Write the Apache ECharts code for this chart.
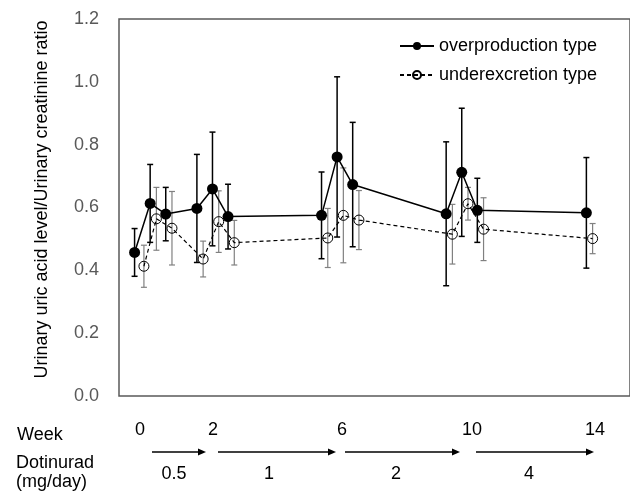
<!DOCTYPE html>
<html>
<head>
<meta charset="utf-8">
<script src="https://cdn.jsdelivr.net/npm/echarts@6/dist/echarts.min.js"></script>
<style>
  html, body { margin: 0; padding: 0; background: #fff; }
  #chart { width: 630px; height: 495px; }
</style>
</head>
<body>
<div id="chart"></div>
<script>
// positions on the x scale (one unit = one sample slot, week labels are below)
const xOver = [0, 1, 2, 4, 5, 6, 12, 13, 14, 20, 21, 22, 29]
const overMean = [0.457, 0.613, 0.579, 0.597, 0.659, 0.571, 0.575, 0.761, 0.673, 0.580, 0.712, 0.591, 0.583]
const overSD = [0.076, 0.124, 0.085, 0.172, 0.181, 0.103, 0.138, 0.255, 0.198, 0.229, 0.204, 0.102, 0.176]

const xUnder = [0.6, 1.4, 2.4, 4.4, 5.4, 6.4, 12.4, 13.4, 14.4, 20.4, 21.4, 22.4, 29.4]
const underMean = [0.413, 0.564, 0.534, 0.436, 0.555, 0.488, 0.503, 0.575, 0.560, 0.515, 0.612, 0.531, 0.501]
const underSD = [0.067, 0.100, 0.117, 0.057, 0.098, 0.071, 0.094, 0.151, 0.094, 0.095, 0.052, 0.100, 0.048]

const weekLabels = ['0', '2', '6', '10', '14']
const doseLabels = ['0.5', '1', '2', '4']

const FONT = '"Liberation Sans", Arial, sans-serif'

// annotation layout under the plot (pixels)
const weekX = [140, 213, 342, 472, 595]
const doseX = [174, 269, 396, 529]
const arrowX = [[152, 206], [218, 336], [345, 460], [476, 594]]

function pts (xs, ys) {
  return xs.map((x, i) => [x, ys[i]])
}
function bars (xs, ys, sd) {
  return xs.map((x, i) => [x, +(ys[i] - sd[i]).toFixed(3), +(ys[i] + sd[i]).toFixed(3)])
}

function errRender (color, width) {
  return function (params, api) {
    const x = api.value(0)
    const top = api.coord([x, api.value(2)])
    const bot = api.coord([x, api.value(1)])
    const hw = 3
    const st = { stroke: color, lineWidth: width }
    return {
      type: 'group',
      children: [
        { type: 'line', shape: { x1: top[0], y1: top[1], x2: bot[0], y2: bot[1] }, style: st },
        { type: 'line', shape: { x1: top[0] - hw, y1: top[1], x2: top[0] + hw, y2: top[1] }, style: st },
        { type: 'line', shape: { x1: bot[0] - hw, y1: bot[1], x2: bot[0] + hw, y2: bot[1] }, style: st }
      ]
    }
  }
}

const graphics = []
graphics.push({ type: 'text', left: 17, top: 426, style: { text: 'Week', font: '18px ' + FONT, fill: '#000' } })
graphics.push({ type: 'text', left: 16, top: 454, style: { text: 'Dotinurad', font: '18px ' + FONT, fill: '#000' } })
graphics.push({ type: 'text', left: 16, top: 473, style: { text: '(mg/day)', font: '18px ' + FONT, fill: '#000' } })
weekLabels.forEach((w, i) => {
  graphics.push({
    type: 'text', x: weekX[i], y: 430,
    style: { text: w, font: '18px ' + FONT, fill: '#000', align: 'center', verticalAlign: 'middle' }
  })
})
doseLabels.forEach((d, i) => {
  graphics.push({
    type: 'text', x: doseX[i], y: 474,
    style: { text: d, font: '18px ' + FONT, fill: '#000', align: 'center', verticalAlign: 'middle' }
  })
})
arrowX.forEach(a => {
  graphics.push({ type: 'line', shape: { x1: a[0], y1: 452, x2: a[1] - 6, y2: 452 }, style: { stroke: '#000', lineWidth: 1.5 } })
  graphics.push({ type: 'polygon', shape: { points: [[a[1] - 8, 448.5], [a[1], 452], [a[1] - 8, 455.5]] }, style: { fill: '#000' } })
})

const chart = echarts.init(document.getElementById('chart'))
chart.setOption({
  animation: false,
  backgroundColor: '#fff',
  grid: {
    left: 119, right: -2, top: 19, bottom: 99,
    show: true, borderColor: '#595959', borderWidth: 1.5
  },
  legend: {
    orient: 'vertical',
    left: 394,
    top: 32,
    itemWidth: 34,
    itemHeight: 10,
    itemGap: 11,
    textStyle: { fontFamily: FONT, fontSize: 18, color: '#000' },
    data: ['overproduction type', 'underexcretion type']
  },
  xAxis: {
    type: 'value',
    min: -1,
    max: 31.8,
    axisLine: { show: false },
    axisTick: { show: false },
    axisLabel: { show: false },
    splitLine: { show: false }
  },
  yAxis: {
    type: 'value',
    min: 0,
    max: 1.2,
    interval: 0.2,
    name: 'Urinary uric acid level/Urinary creatinine ratio',
    nameLocation: 'middle',
    nameGap: 68,
    nameTextStyle: { fontFamily: FONT, fontSize: 18, color: '#000', padding: [0, 0, 0, 16] },
    axisLine: { show: false },
    axisTick: { show: false },
    splitLine: { show: false },
    axisLabel: {
      margin: 20,
      fontFamily: FONT,
      fontSize: 18,
      color: '#595959',
      formatter: v => v.toFixed(1)
    }
  },
  series: [
    {
      type: 'custom',
      name: 'underErr',
      z: 1,
      renderItem: errRender('#808080', 1.2),
      data: bars(xUnder, underMean, underSD)
    },
    {
      type: 'line',
      name: 'underexcretion type',
      z: 2,
      symbol: 'circle',
      symbolSize: 10,
      itemStyle: { color: 'rgba(255,255,255,0)', borderColor: '#000', borderWidth: 1 },
      lineStyle: { color: '#000', width: 1.2, type: [4, 3] },
      data: pts(xUnder, underMean)
    },
    {
      type: 'custom',
      name: 'overErr',
      z: 3,
      renderItem: errRender('#000', 1.5),
      data: bars(xOver, overMean, overSD)
    },
    {
      type: 'line',
      name: 'overproduction type',
      z: 4,
      symbol: 'circle',
      symbolSize: 11,
      itemStyle: { color: '#000' },
      lineStyle: { color: '#000', width: 1.5 },
      data: pts(xOver, overMean)
    }
  ],
  graphic: graphics
})
</script>
</body>
</html>
